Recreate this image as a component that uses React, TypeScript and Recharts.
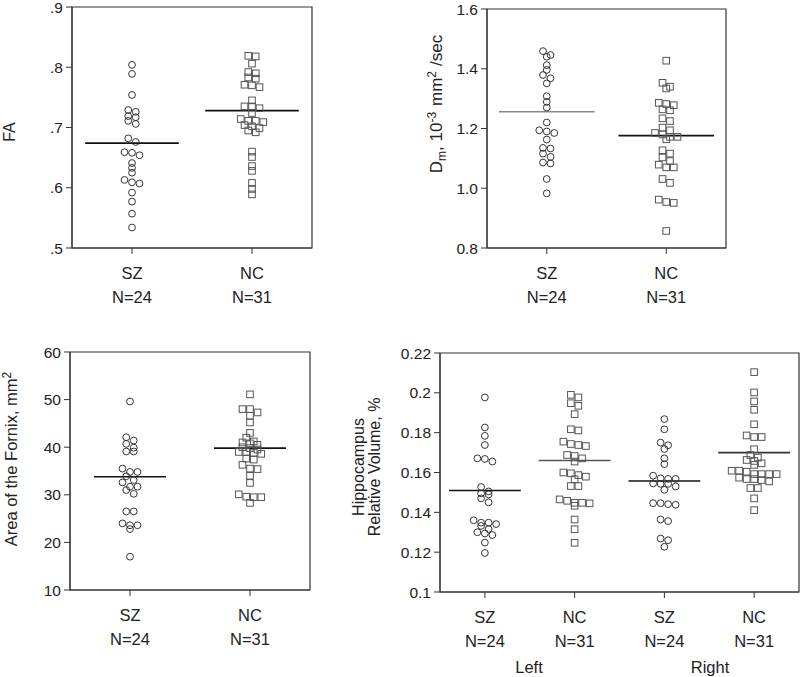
import React from "react";
import {
  ScatterChart,
  Scatter,
  XAxis,
  YAxis,
  ReferenceLine,
  ReferenceArea,
} from "recharts";

const FONT = '"Liberation Sans", Arial, Helvetica, sans-serif';
const INK = "#222";

// group labels
const groupNames = ["SZ", "NC"];
const groupN = [24, 31];

// FA
const faSZ = [0.804, 0.789, 0.754, 0.729, 0.726, 0.719, 0.717, 0.711, 0.706, 0.682, 0.676, 0.659, 0.658, 0.654, 0.641, 0.633, 0.625, 0.613, 0.609, 0.607, 0.592, 0.577, 0.557, 0.534];
const faNC = [0.819, 0.818, 0.806, 0.792, 0.79, 0.783, 0.781, 0.771, 0.77, 0.767, 0.745, 0.735, 0.735, 0.732, 0.724, 0.714, 0.711, 0.711, 0.709, 0.704, 0.702, 0.699, 0.695, 0.692, 0.66, 0.651, 0.636, 0.628, 0.608, 0.598, 0.589];
const faMedian = [0.674, 0.728];
const faTicks = [0.5, 0.6, 0.7, 0.8, 0.9];

// Dm
const dmSZ = [1.459, 1.446, 1.44, 1.412, 1.396, 1.379, 1.368, 1.351, 1.308, 1.289, 1.27, 1.22, 1.194, 1.19, 1.185, 1.163, 1.135, 1.133, 1.116, 1.105, 1.086, 1.083, 1.031, 0.983];
const dmNC = [1.427, 1.353, 1.34, 1.334, 1.286, 1.282, 1.278, 1.264, 1.261, 1.234, 1.225, 1.203, 1.194, 1.185, 1.18, 1.172, 1.172, 1.164, 1.127, 1.116, 1.103, 1.091, 1.079, 1.07, 1.07, 1.031, 1.018, 0.962, 0.954, 0.951, 0.857];
const dmMedian = [1.256, 1.176];
const dmTicks = [0.8, 1.0, 1.2, 1.4, 1.6];

// fornix area
const fxSZ = [49.6, 42.1, 41.4, 40.7, 39.9, 39.1, 39.1, 35.5, 34.8, 34.8, 33.9, 33.1, 32.6, 31.7, 31.7, 31.0, 30.2, 26.5, 26.5, 24.0, 23.6, 23.6, 22.8, 17.0];
const fxNC = [51.1, 48.0, 48.0, 47.3, 46.6, 45.2, 43.0, 42.0, 41.2, 41.0, 40.8, 40.5, 40.0, 39.8, 39.5, 39.0, 39.0, 38.8, 38.6, 37.6, 37.4, 36.3, 35.5, 35.4, 34.0, 32.5, 30.1, 29.6, 29.5, 29.5, 28.3];
const fxMedian = [33.8, 39.8];
const fxTicks = [10, 20, 30, 40, 50, 60];

// hippocampus relative volume, left / right
const hlSZ = [0.1977, 0.1826, 0.1784, 0.1738, 0.1671, 0.1668, 0.1655, 0.1527, 0.1505, 0.1495, 0.149, 0.147, 0.145, 0.136, 0.1348, 0.1348, 0.1341, 0.1332, 0.1316, 0.13, 0.1294, 0.1286, 0.1248, 0.1196];
const hlNC = [0.199, 0.1977, 0.1948, 0.1935, 0.1893, 0.1817, 0.1811, 0.1755, 0.1743, 0.1738, 0.1733, 0.1688, 0.1683, 0.1671, 0.1655, 0.16, 0.1596, 0.1587, 0.1579, 0.1566, 0.1532, 0.1532, 0.1465, 0.1458, 0.1448, 0.1448, 0.1445, 0.1433, 0.1364, 0.1315, 0.1247];
const hrSZ = [0.1868, 0.1817, 0.175, 0.1737, 0.1718, 0.1671, 0.1642, 0.1584, 0.1571, 0.1568, 0.1568, 0.1545, 0.1543, 0.1543, 0.153, 0.1513, 0.1446, 0.1446, 0.1441, 0.1438, 0.1364, 0.1356, 0.1268, 0.126, 0.1227];
const hrNC = [0.2104, 0.2002, 0.1957, 0.1915, 0.1842, 0.1786, 0.1778, 0.1778, 0.1717, 0.1688, 0.1675, 0.1663, 0.1658, 0.1646, 0.1638, 0.1609, 0.1609, 0.1604, 0.1592, 0.1592, 0.1592, 0.1592, 0.1574, 0.1567, 0.1567, 0.1562, 0.1555, 0.1522, 0.1522, 0.147, 0.1411];
const hMedian = [0.151, 0.166, 0.1557, 0.17];
const hTicks = [0.1, 0.12, 0.14, 0.16, 0.18, 0.2, 0.22];
const sideNames = ["Left", "Right"];

// dot-plot stacking: values closer than BIN px go side by side, STEP px apart
const STEP = 7.5;
const BIN = 4.5;

type Pt = { x: number; y: number };

function swarm(values: number[], center: number, pxY: number, pxX: number): Pt[] {
  const sorted = [...values].sort((a, b) => b - a);
  const out: Pt[] = [];
  let bin: number[] = [];
  const flush = () => {
    bin.forEach((v, k) => {
      out.push({ x: center + ((k - (bin.length - 1) / 2) * STEP) / pxX, y: v });
    });
    bin = [];
  };
  for (const v of sorted) {
    if (bin.length && (bin[0] - v) * pxY > BIN) flush();
    bin.push(v);
  }
  flush();
  return out;
}

const Circle = (p: any) => (
  <circle cx={p.cx} cy={p.cy} r={3.4} fill="none" stroke="#333" strokeWidth={1} />
);
const Square = (p: any) => (
  <rect x={p.cx - 3.3} y={p.cy - 3.3} width={6.6} height={6.6} fill="none" stroke="#555" strokeWidth={1} />
);

interface PanelProps {
  left: number;
  top: number;
  width: number;
  height: number;
  marginTop: number;
  marginRight: number;
  yAxisWidth: number;
  xAxisHeight: number;
  yDomain: [number, number];
  yTicks: number[];
  yFmt: (v: number) => string;
  centers: number[];
  series: number[][];
  medians: number[];
  lineColors: string[];
  halfWidth: number;
}

const Panel = (props: PanelProps) => {
  const {
    left, top, width, height, marginTop, marginRight, yAxisWidth, xAxisHeight,
    yDomain, yTicks, yFmt, centers, series, medians, lineColors, halfWidth,
  } = props;
  const plotH = height - marginTop - xAxisHeight;
  const plotW = width - marginRight - yAxisWidth;
  const pxY = plotH / (yDomain[1] - yDomain[0]);
  const pxX = plotW / 4;

  const CatTick = ({ x, y, index }: any) => (
    <g fontFamily={FONT} fontSize={16.5} fill={INK}>
      <text x={x} y={y + 23} textAnchor="middle">{groupNames[index % 2]}</text>
      <text x={x} y={y + 47} textAnchor="middle">N={groupN[index % 2]}</text>
    </g>
  );

  return (
    <div style={{ position: "absolute", left, top }}>
      <ScatterChart
        width={width}
        height={height}
        margin={{ top: marginTop, right: marginRight, left: 0, bottom: 0 }}
      >
        <XAxis
          type="number"
          dataKey="x"
          domain={[0, 4]}
          ticks={centers}
          tick={<CatTick />}
          tickSize={6}
          tickMargin={2}
          height={xAxisHeight}
          stroke="#333"
          interval={0}
        />
        <YAxis
          type="number"
          dataKey="y"
          domain={yDomain}
          ticks={yTicks}
          tickFormatter={yFmt}
          width={yAxisWidth}
          tickSize={6}
          tickMargin={3}
          stroke="#333"
          tick={{ fontFamily: FONT, fontSize: 15.5, fill: INK }}
          interval={0}
          allowDataOverflow
        />
        <ReferenceArea
          x1={0}
          x2={4}
          y1={yDomain[0]}
          y2={yDomain[1]}
          fill="none"
          fillOpacity={0}
          stroke="#333"
          strokeWidth={1.2}
        />
        {series.map((vals, i) => (
          <Scatter
            key={`s-${i}`}
            data={swarm(vals, centers[i], pxY, pxX)}
            shape={i % 2 === 0 ? Circle : Square}
            isAnimationActive={false}
          />
        ))}
        {medians.map((m, i) => (
          <ReferenceLine
            key={`m-${i}`}
            segment={[
              { x: centers[i] - halfWidth, y: m },
              { x: centers[i] + halfWidth, y: m },
            ]}
            stroke={lineColors[i]}
            strokeWidth={1.6}
          />
        ))}
      </ScatterChart>
    </div>
  );
};

const App = () => {
  return (
    <div
      style={{
        position: "absolute",
        left: 0,
        top: 0,
        width: 800,
        height: 677,
        background: "#fff",
        overflow: "hidden",
      }}
    >
      <Panel
        left={0} top={0} width={400} height={330}
        marginTop={7} marginRight={88} yAxisWidth={72} xAxisHeight={82}
        yDomain={[0.5, 0.9]} yTicks={faTicks}
        yFmt={(v) => v.toFixed(1).replace(/^0/, "")}
        centers={[1, 3]} series={[faSZ, faNC]} medians={faMedian}
        lineColors={["#111", "#111"]} halfWidth={0.78}
      />
      <Panel
        left={400} top={0} width={400} height={330}
        marginTop={9} marginRight={74} yAxisWidth={87} xAxisHeight={82}
        yDomain={[0.8, 1.6]} yTicks={dmTicks}
        yFmt={(v) => v.toFixed(1)}
        centers={[1, 3]} series={[dmSZ, dmNC]} medians={dmMedian}
        lineColors={["#888", "#111"]} halfWidth={0.8}
      />
      <Panel
        left={0} top={330} width={400} height={347}
        marginTop={22} marginRight={90} yAxisWidth={70} xAxisHeight={87}
        yDomain={[10, 60]} yTicks={fxTicks}
        yFmt={(v) => String(v)}
        centers={[1, 3]} series={[fxSZ, fxNC]} medians={fxMedian}
        lineColors={["#111", "#111"]} halfWidth={0.6}
      />
      <Panel
        left={340} top={330} width={460} height={347}
        marginTop={23} marginRight={1} yAxisWidth={100} xAxisHeight={85}
        yDomain={[0.1, 0.22]} yTicks={hTicks}
        yFmt={(v) => String(v)}
        centers={[0.5, 1.5, 2.5, 3.5]} series={[hlSZ, hlNC, hrSZ, hrNC]} medians={hMedian}
        lineColors={["#111", "#555", "#111", "#333"]} halfWidth={0.4}
      />
      <svg
        width={800}
        height={677}
        style={{ position: "absolute", left: 0, top: 0, pointerEvents: "none" }}
        fontFamily={FONT}
        fill={INK}
      >
        <text transform="translate(15,132) rotate(-90)" textAnchor="middle" fontSize={16}>
          FA
        </text>
        <text transform="translate(442,104) rotate(-90)" textAnchor="middle" fontSize={17}>
          D<tspan dy={4} fontSize={12}>m</tspan>
          <tspan dy={-4}>, 10</tspan>
          <tspan dy={-6} fontSize={12}>-3</tspan>
          <tspan dy={6} dx={6}>mm</tspan>
          <tspan dy={-6} fontSize={12}>2</tspan>
          <tspan dy={6} dx={5}>/sec</tspan>
        </text>
        <text transform="translate(17,459) rotate(-90)" textAnchor="middle" fontSize={16.5}>
          Area of the Fornix, mm<tspan dy={-6} fontSize={12}>2</tspan>
        </text>
        <text transform="translate(364,467) rotate(-90)" textAnchor="middle" fontSize={16}>
          Hippocampus
        </text>
        <text transform="translate(380,467) rotate(-90)" textAnchor="middle" fontSize={16}>
          Relative Volume, %
        </text>
        <text x={529} y={673} textAnchor="middle" fontSize={16.5}>{sideNames[0]}</text>
        <text x={710} y={673} textAnchor="middle" fontSize={16.5}>{sideNames[1]}</text>
      </svg>
    </div>
  );
};

export default App;
